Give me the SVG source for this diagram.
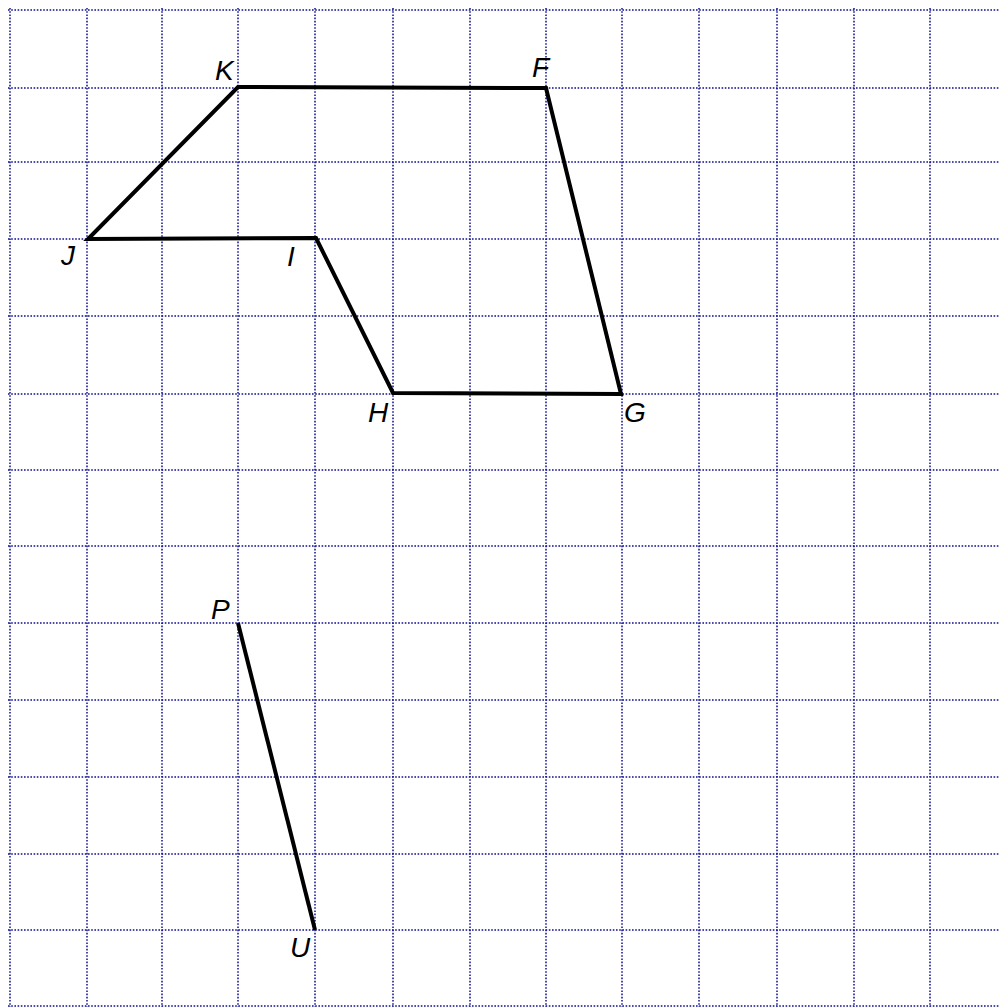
<svg xmlns="http://www.w3.org/2000/svg" width="1000" height="1007" viewBox="0 0 1000 1007">
<style>
.grid line{stroke:#0f0f8f;stroke-width:1.5;stroke-dasharray:1.6 1.6;fill:none}
.seg{stroke:#000;stroke-width:4;fill:none;stroke-linejoin:miter;stroke-linecap:butt}
.lbl{font-family:"Liberation Sans",Arial,sans-serif;font-style:italic;font-size:28px;fill:#000}
</style>
<rect width="1000" height="1007" fill="#fff"/>
<g class="grid" id="grid">
<line x1="10" y1="8" x2="10" y2="1007"/>
<line x1="87" y1="8" x2="87" y2="1007"/>
<line x1="162" y1="8" x2="162" y2="1007"/>
<line x1="238" y1="8" x2="238" y2="1007"/>
<line x1="315" y1="8" x2="315" y2="1007"/>
<line x1="393" y1="8" x2="393" y2="1007"/>
<line x1="470" y1="8" x2="470" y2="1007"/>
<line x1="546" y1="8" x2="546" y2="1007"/>
<line x1="622" y1="8" x2="622" y2="1007"/>
<line x1="699" y1="8" x2="699" y2="1007"/>
<line x1="777" y1="8" x2="777" y2="1007"/>
<line x1="854" y1="8" x2="854" y2="1007"/>
<line x1="930" y1="8" x2="930" y2="1007"/>
<line x1="8" y1="10" x2="1000" y2="10"/>
<line x1="8" y1="88" x2="1000" y2="88"/>
<line x1="8" y1="162" x2="1000" y2="162"/>
<line x1="8" y1="239" x2="1000" y2="239"/>
<line x1="8" y1="316" x2="1000" y2="316"/>
<line x1="8" y1="394" x2="1000" y2="394"/>
<line x1="8" y1="470" x2="1000" y2="470"/>
<line x1="8" y1="546" x2="1000" y2="546"/>
<line x1="8" y1="623" x2="1000" y2="623"/>
<line x1="8" y1="700" x2="1000" y2="700"/>
<line x1="8" y1="777" x2="1000" y2="777"/>
<line x1="8" y1="854" x2="1000" y2="854"/>
<line x1="8" y1="930" x2="1000" y2="930"/>
<line x1="8" y1="1006" x2="1000" y2="1006"/>
</g>
<g id="connectors">
<polygon class="seg" points="238,87 546,88 621,394 393,393 316,238 88,239"/>
<line class="seg" x1="238" y1="623" x2="315" y2="930"/>
</g>
<g id="node-K"><text class="lbl" x="215" y="80">K</text></g>
<g id="node-F"><text class="lbl" x="532" y="77">F</text></g>
<g id="node-J"><text class="lbl" x="61" y="265">J</text></g>
<g id="node-I"><text class="lbl" x="287" y="266">I</text></g>
<g id="node-H"><text class="lbl" x="368" y="422">H</text></g>
<g id="node-G"><text class="lbl" x="624" y="422">G</text></g>
<g id="node-P"><text class="lbl" x="211" y="619">P</text></g>
<g id="node-U"><text class="lbl" x="290" y="957">U</text></g>
</svg>
